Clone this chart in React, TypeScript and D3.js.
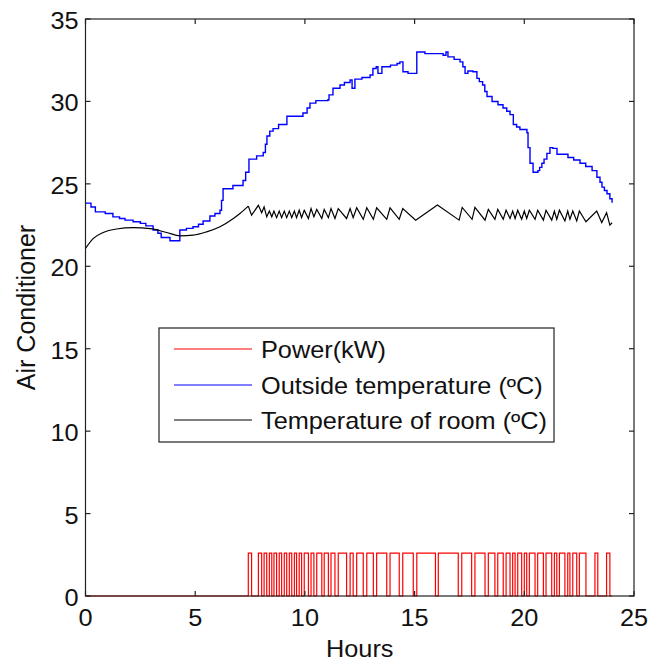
import React from "react";
import * as d3 from "d3";

// ---------- data ----------
const xTicks = [0, 5, 10, 15, 20, 25];
const yTicks = [0, 5, 10, 15, 20, 25, 30, 35];
const legendLabels = ["Power(kW)", "Outside temperature (ºC)", "Temperature of room (ºC)"];
const seriesColors = ["#ff0000", "#0000ff", "#000000"];

const powerLevel = 2.6;
// AC on intervals [start, end] in hours
const powerOn: [number, number][] = [
  [7.42, 7.57], [7.88, 8.03], [8.14, 8.26], [8.38, 8.49], [8.59, 8.71],
  [8.83, 8.94], [9.06, 9.17], [9.29, 9.4], [9.52, 9.62], [9.74, 9.85],
  [9.97, 10.16], [10.28, 10.41], [10.54, 10.77], [10.88, 11.07], [11.19, 11.37],
  [11.52, 11.9], [12.06, 12.2], [12.36, 12.66], [12.82, 13.12], [13.27, 13.73],
  [13.88, 14.3], [14.46, 14.94], [15.1, 15.95], [16.08, 16.99], [17.15, 17.6],
  [17.75, 18.21], [18.36, 18.66], [18.79, 19.04], [19.17, 19.35], [19.47, 19.58],
  [19.7, 19.88], [20.0, 20.11], [20.23, 20.49], [20.61, 20.87], [20.99, 21.25],
  [21.37, 21.48], [21.6, 21.85], [21.98, 22.08], [22.21, 22.39], [22.51, 22.81],
  [23.22, 23.35], [23.75, 23.9],
];

// outside temperature, step-after [hour, value]
const outsideTemp: [number, number][] = [
  [0, 23.83], [0.25, 23.6], [0.45, 23.3], [0.9, 23.2], [1.25, 23.0], [1.55, 22.9],
  [1.8, 22.8], [2.17, 22.7], [2.5, 22.6], [2.75, 22.45], [3.08, 22.2], [3.3, 22.0],
  [3.45, 21.75], [3.85, 21.55], [4.3, 22.2], [4.6, 22.3], [4.9, 22.4], [5.15, 22.55],
  [5.36, 22.75], [5.67, 23.05], [5.9, 23.2], [6.13, 23.4], [6.2, 24.0], [6.27, 24.7],
  [6.72, 24.9], [7.18, 25.2], [7.3, 25.7], [7.45, 26.5], [7.8, 26.7], [8.1, 26.9],
  [8.2, 27.4], [8.27, 27.9], [8.4, 28.2], [8.55, 28.35], [8.8, 28.6], [9.18, 29.1],
  [9.91, 29.3], [10.1, 29.6], [10.23, 29.9], [10.5, 30.05], [11.05, 30.1], [11.1, 30.4],
  [11.28, 30.8], [11.6, 31.0], [11.8, 31.15], [12.06, 31.3], [12.15, 30.8], [12.28, 31.35],
  [12.6, 31.45], [12.97, 31.6], [13.1, 32.0], [13.25, 32.1], [13.33, 31.7], [13.51, 32.1],
  [13.9, 32.2], [14.2, 32.3], [14.33, 32.4], [14.47, 31.8], [14.7, 31.7], [15.1, 33.0],
  [15.47, 32.9], [16.3, 32.8], [16.43, 33.0], [16.52, 32.7], [16.8, 32.55], [17.07, 32.4],
  [17.2, 32.1], [17.3, 31.7], [17.43, 31.85], [17.66, 31.8], [17.84, 31.4], [17.95, 31.2],
  [18.1, 31.0], [18.2, 30.6], [18.3, 30.3], [18.53, 30.0], [18.8, 29.8], [19.03, 29.6],
  [19.2, 29.4], [19.35, 29.2], [19.5, 28.6], [19.65, 28.45], [19.8, 28.3], [20.12, 28.1],
  [20.17, 27.2], [20.26, 26.25], [20.4, 25.7], [20.62, 25.8], [20.7, 26.0], [20.8, 26.25],
  [20.9, 26.5], [21.03, 26.85], [21.17, 27.2], [21.3, 27.15], [21.49, 26.8], [21.99, 26.6],
  [22.25, 26.45], [22.54, 26.25], [22.8, 26.05], [23.09, 25.8], [23.31, 25.4], [23.45, 25.1],
  [23.54, 24.8], [23.65, 24.6], [23.77, 24.4], [23.9, 24.1], [24.0, 23.85],
];

// room temperature before the AC starts (smooth)
const roomFree: [number, number][] = [
  [0, 21.08], [0.36, 21.69], [0.81, 22.05], [1.42, 22.26], [2.18, 22.34], [2.94, 22.28],
  [3.7, 22.05], [4.31, 21.85], [4.91, 21.89], [5.52, 22.09], [6.13, 22.4], [6.74, 22.9],
  [7.04, 23.2], [7.42, 23.65],
];

// room temperature while the AC cycles (zigzag vertices)
const roomCycle: [number, number][] = [
  [7.42, 23.65], [7.57, 23.1], [7.88, 23.7], [8.03, 23.25], [8.14, 23.6], [8.26, 23.0],
  [8.38, 23.35], [8.49, 23.0], [8.59, 23.35], [8.71, 22.95], [8.83, 23.35], [8.94, 22.95],
  [9.06, 23.35], [9.17, 22.95], [9.29, 23.35], [9.4, 22.95], [9.52, 23.35], [9.62, 22.95],
  [9.74, 23.4], [9.85, 22.95], [9.97, 23.4], [10.16, 22.9], [10.28, 23.5], [10.41, 23.0],
  [10.54, 23.45], [10.77, 22.9], [10.88, 23.45], [11.07, 22.95], [11.19, 23.5], [11.37, 22.9],
  [11.52, 23.5], [11.9, 22.9], [12.06, 23.5], [12.2, 22.95], [12.36, 23.55], [12.66, 22.85],
  [12.82, 23.55], [13.12, 22.85], [13.27, 23.55], [13.73, 22.85], [13.88, 23.55], [14.3, 22.85],
  [14.46, 23.5], [15.05, 22.8], [16.04, 23.72], [17.03, 22.8], [17.17, 23.57], [17.62, 22.85],
  [17.75, 23.57], [18.21, 22.8], [18.36, 23.45], [18.66, 22.85], [18.79, 23.45], [19.04, 22.85],
  [19.17, 23.4], [19.35, 22.9], [19.47, 23.35], [19.58, 22.9], [19.7, 23.4], [19.88, 22.85],
  [20.0, 23.35], [20.11, 22.9], [20.23, 23.4], [20.49, 22.85], [20.61, 23.4], [20.87, 22.8],
  [20.99, 23.4], [21.25, 22.8], [21.37, 23.35], [21.48, 22.85], [21.6, 23.4], [21.85, 22.75],
  [21.98, 23.35], [22.08, 22.85], [22.21, 23.35], [22.39, 22.75], [22.51, 23.35], [22.81, 22.7],
  [23.3, 23.35], [23.53, 22.65], [23.75, 23.25], [23.9, 22.5], [24.0, 22.64],
];

// ---------- layout ----------
const W = 653;
const H = 663;
const plot = { left: 85.5, right: 634, top: 19, bottom: 596 };
const FONT = "Arial, 'Liberation Sans', Helvetica, sans-serif";
const FS = 23;
const SX = 1.1;

function SText(props: { x: number; y: number; anchor?: string; children: React.ReactNode }) {
  return (
    <text
      transform={`translate(${props.x},${props.y}) scale(${SX},1)`}
      textAnchor={props.anchor || "start"}
      fontSize={FS}
      fill="#111"
    >
      {props.children}
    </text>
  );
}

export default function App() {
  const x = d3.scaleLinear().domain([0, 25]).range([plot.left, plot.right]);
  const y = d3.scaleLinear().domain([0, 35]).range([plot.bottom, plot.top]);

  const powerPts: [number, number][] = [[0, 0]];
  powerOn.forEach(([a, b]) => {
    powerPts.push([a, 0], [a, powerLevel], [b, powerLevel], [b, 0]);
  });
  powerPts.push([24, 0]);

  const lin = d3.line<[number, number]>().x((d) => x(d[0])).y((d) => y(d[1]));
  const step = d3
    .line<[number, number]>()
    .x((d) => x(d[0]))
    .y((d) => y(d[1]))
    .curve(d3.curveStepAfter);
  const smooth = d3
    .line<[number, number]>()
    .x((d) => x(d[0]))
    .y((d) => y(d[1]))
    .curve(d3.curveMonotoneX);

  const tickLen = 5;
  const legend = { x: 159, y: 328, w: 395, h: 114 };
  const legendRows = [349, 385, 420];

  return (
    <svg
      width={W}
      height={H}
      style={{ position: "absolute", left: 0, top: 0, background: "#fff" }}
      fontFamily={FONT}
    >
      <rect x={0} y={0} width={W} height={H} fill="#fff" />
      {/* data */}
      <path d={lin(powerPts) || ""} fill="none" stroke={seriesColors[0]} strokeWidth={1.2} />
      <path d={step(outsideTemp) || ""} fill="none" stroke={seriesColors[1]} strokeWidth={1.4} />
      <path d={smooth(roomFree) || ""} fill="none" stroke={seriesColors[2]} strokeWidth={1.2} />
      <path d={lin(roomCycle) || ""} fill="none" stroke={seriesColors[2]} strokeWidth={1.2} />

      {/* frame */}
      <rect
        x={plot.left}
        y={plot.top}
        width={plot.right - plot.left}
        height={plot.bottom - plot.top}
        fill="none"
        stroke="#222"
        strokeWidth={1.2}
      />
      {xTicks.map((t) => (
        <g key={"xt" + t}>
          <line x1={x(t)} x2={x(t)} y1={plot.bottom} y2={plot.bottom - tickLen} stroke="#222" strokeWidth={1.2} />
          <line x1={x(t)} x2={x(t)} y1={plot.top} y2={plot.top + tickLen} stroke="#222" strokeWidth={1.2} />
          <SText x={x(t)} y={626} anchor="middle">{t}</SText>
        </g>
      ))}
      {yTicks.map((t) => (
        <g key={"yt" + t}>
          <line x1={plot.left} x2={plot.left + tickLen} y1={y(t)} y2={y(t)} stroke="#222" strokeWidth={1.2} />
          <line x1={plot.right} x2={plot.right - tickLen} y1={y(t)} y2={y(t)} stroke="#222" strokeWidth={1.2} />
          <SText x={plot.left - 7} y={y(t) + 10} anchor="end">{t}</SText>
        </g>
      ))}

      {/* axis labels */}
      <SText x={(plot.left + plot.right) / 2} y={657} anchor="middle">Hours</SText>
      <text
        transform={`translate(35, ${(plot.top + plot.bottom) / 2}) rotate(-90)`}
        textAnchor="middle"
        fontSize={25}
        fill="#111"
      >
        Air Conditioner
      </text>

      {/* legend */}
      <rect x={legend.x} y={legend.y} width={legend.w} height={legend.h} fill="#fff" stroke="#222" strokeWidth={1.2} />
      {legendLabels.map((lab, i) => (
        <g key={lab}>
          <line x1={174} x2={252} y1={legendRows[i]} y2={legendRows[i]} stroke={seriesColors[i]} strokeWidth={1.2} />
          <SText x={261} y={legendRows[i] + 8.5}>{lab}</SText>
        </g>
      ))}
    </svg>
  );
}
